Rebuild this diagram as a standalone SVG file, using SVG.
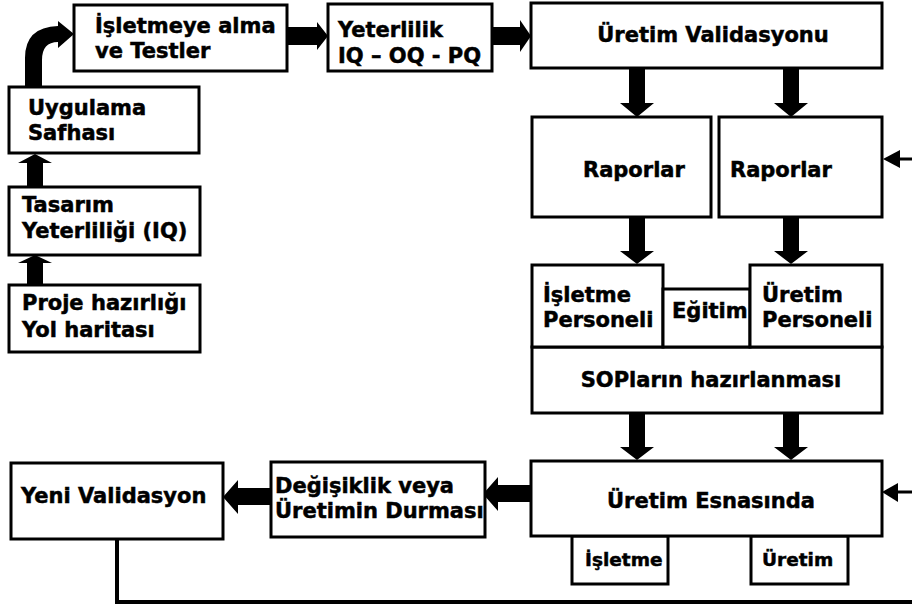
<svg xmlns="http://www.w3.org/2000/svg" width="912" height="608" viewBox="0 0 912 608">
<style>
.box{fill:#fff;stroke:#000;stroke-width:3}
.t{font-family:"DejaVu Sans","Liberation Sans",sans-serif;font-weight:bold;font-size:21px;fill:#000;stroke:#000;stroke-width:0.5}
.ts{font-size:18.5px}
.m{text-anchor:middle}
.arr{fill:#000;stroke:none}
.ln{fill:none;stroke:#000;stroke-width:3}
</style>
<rect width="912" height="608" fill="#fff"/>
<g id="connectors">
  <path class="arr" d="M25 88 L25 58 Q25 27 58 26 L58 21 L74 34 L58 48 L58 42 Q42 42 42 60 L42 88 Z"/>
  <polygon class="arr" points="27,187 27,163 18,163 35,154 52,163 43,163 43,187"/>
  <polygon class="arr" points="27,285 27,263 18,263 35,255 52,263 43,263 43,285"/>
  <polygon class="arr" points="287,27 317,27 317,22 328,36 317,50 317,45 287,45"/>
  <polygon class="arr" points="492,27 520,27 520,20 531,36 520,52 520,45 492,45"/>
  <polygon class="arr" points="629,68 645,68 645,103 654,103 637,117 620,103 629,103"/>
  <polygon class="arr" points="783,68 799,68 799,103 808,103 791,117 774,103 783,103"/>
  <line class="ln" x1="898" y1="159" x2="912" y2="159"/>
  <polygon class="arr" points="883,159 900,150 900,168"/>
  <polygon class="arr" points="629,217 645,217 645,251 654,251 637,264 620,251 629,251"/>
  <polygon class="arr" points="783,217 799,217 799,251 808,251 791,264 774,251 783,251"/>
  <polygon class="arr" points="629,413 645,413 645,447 654,447 637,460 620,447 629,447"/>
  <polygon class="arr" points="783,413 799,413 799,447 808,447 791,460 774,447 783,447"/>
  <line class="ln" x1="896" y1="492" x2="912" y2="492"/>
  <polygon class="arr" points="882,492 898,483 898,502"/>
  <polygon class="arr" points="531,485 498,485 498,477 483,494 498,511 498,502 531,502"/>
  <polygon class="arr" points="271,488 238,488 238,480 223,497 238,514 238,505 271,505"/>
  <path d="M117 539 L117 602 L912 602" fill="none" stroke="#000" stroke-width="4"/>
</g>
<g id="n-isletmeye">
  <rect class="box" x="74" y="5" width="213" height="66"/>
  <text class="t" x="95" y="33">İşletmeye alma</text>
  <text class="t" x="95" y="58">ve Testler</text>
</g>
<g id="n-yeterlilik">
  <rect class="box" x="328" y="4" width="164" height="67"/>
  <text class="t" x="338" y="37">Yeterlilik</text>
  <text class="t" x="338" y="63">IQ – OQ - PQ</text>
</g>
<g id="n-validasyon">
  <rect class="box" x="531" y="3" width="351" height="65"/>
  <text class="t m" x="713" y="42">Üretim Validasyonu</text>
</g>
<g id="n-uygulama">
  <rect class="box" x="9" y="87" width="190" height="66"/>
  <text class="t" x="28" y="115">Uygulama</text>
  <text class="t" x="28" y="140">Safhası</text>
</g>
<g id="n-tasarim">
  <rect class="box" x="9" y="187" width="191" height="68"/>
  <text class="t" x="22" y="212">Tasarım</text>
  <text class="t" x="22" y="238">Yeterliliği (IQ)</text>
</g>
<g id="n-proje">
  <rect class="box" x="9" y="285" width="191" height="67"/>
  <text class="t" x="22" y="310">Proje hazırlığı</text>
  <text class="t" x="22" y="337">Yol haritası</text>
</g>
<g id="n-raporlar1">
  <rect class="box" x="532" y="117" width="179" height="100"/>
  <text class="t" x="583" y="177">Raporlar</text>
</g>
<g id="n-raporlar2">
  <rect class="box" x="719" y="117" width="163" height="100"/>
  <text class="t" x="730" y="177">Raporlar</text>
</g>
<g id="n-sop">
  <rect class="box" x="532" y="347" width="350" height="66"/>
  <text class="t m" x="711" y="387">SOPların hazırlanması</text>
</g>
<g id="n-isletme-personeli">
  <rect class="box" x="532" y="265" width="131" height="82"/>
  <text class="t" x="543" y="302">İşletme</text>
  <text class="t" x="543" y="327">Personeli</text>
</g>
<g id="n-egitim">
  <rect class="box" x="663" y="289" width="87" height="58"/>
  <text class="t" x="672" y="318">Eğitim</text>
</g>
<g id="n-uretim-personeli">
  <rect class="box" x="750" y="265" width="132" height="82"/>
  <text class="t" x="762" y="302">Üretim</text>
  <text class="t" x="762" y="327">Personeli</text>
</g>
<g id="n-isletme-small">
  <rect class="box" x="572" y="536" width="96" height="48"/>
  <text class="t ts" x="585" y="566">İşletme</text>
</g>
<g id="n-uretim-small">
  <rect class="box" x="751" y="536" width="97" height="48"/>
  <text class="t ts" x="762" y="566">Üretim</text>
</g>
<g id="n-esnasinda">
  <rect class="box" x="531" y="461" width="351" height="75"/>
  <text class="t m" x="711" y="508">Üretim Esnasında</text>
</g>
<g id="n-degisiklik">
  <rect class="box" x="271" y="462" width="214" height="75"/>
  <text class="t" x="275" y="493">Değişiklik veya</text>
  <text class="t" x="275" y="518">Üretimin Durması</text>
</g>
<g id="n-yeni">
  <rect class="box" x="11" y="463" width="212" height="76"/>
  <text class="t" x="21" y="503">Yeni Validasyon</text>
</g>
</svg>
